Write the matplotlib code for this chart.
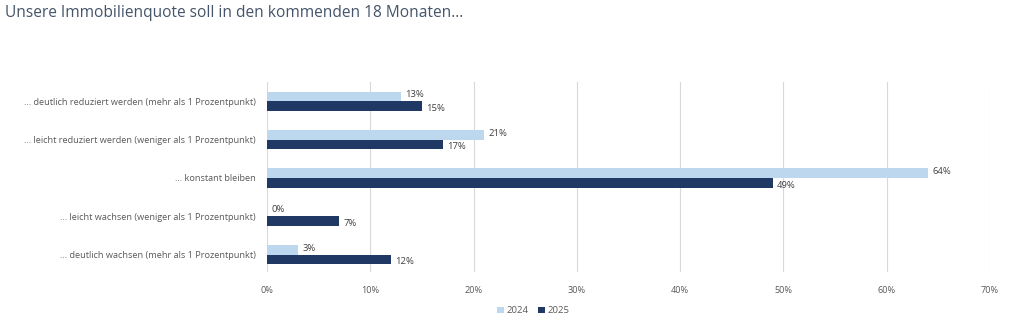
import numpy as np
import matplotlib.pyplot as plt
from matplotlib.ticker import FuncFormatter

# DATA

categories = [
    "... deutlich reduziert werden (mehr als 1 Prozentpunkt)",
    "... leicht reduziert werden (weniger als 1 Prozentpunkt)",
    "... konstant bleiben",
    "... leicht wachsen (weniger als 1 Prozentpunkt)",
    "... deutlich wachsen (mehr als 1 Prozentpunkt)",
]
values_2024 = [13, 21, 64, 0, 3]
values_2025 = [15, 17, 49, 7, 12]
years = ["2024", "2025"]

col_2024 = "#BDD7EE"
col_2025 = "#1F3864"
text_grey = "#595959"

plt.rcParams['font.family'] = ['Open Sans', 'DejaVu Sans']

# FIGURE

fig = plt.figure(figsize=(10.24, 3.29), dpi=100)
ax = fig.add_axes([0.2607, 0.1733, 0.7061, 0.5775])

y = np.arange(len(categories))
h = 0.25

b1 = ax.barh(y - h / 2, values_2024, height=h, color=col_2024, label=years[0], zorder=3)
b2 = ax.barh(y + h / 2, values_2025, height=h, color=col_2025, label=years[1], zorder=3)

# value labels
for bars, vals, dy in ((b1, values_2024, -0.04), (b2, values_2025, 0.06)):
    for bar, v in zip(bars, vals):
        ax.text(v + 0.4, bar.get_y() + bar.get_height() / 2 + dy, f"{v}%",
                va='center', ha='left', fontsize=6.8, color="#404040")

ax.set_xlim(0, 70)
ax.set_ylim(4.45, -0.5)
ax.set_xticks(np.arange(0, 71, 10))
ax.xaxis.set_major_formatter(FuncFormatter(lambda v, p: f"{v:.0f}%"))
ax.set_yticks(y)
ax.set_yticklabels(categories)

ax.tick_params(axis='both', length=0, labelsize=6.6, colors=text_grey)
ax.tick_params(axis='y', pad=8)
ax.tick_params(axis='x', pad=10)
ax.grid(axis='x', color="#D9D9D9", lw=0.8, zorder=0)
for s in ax.spines.values():
    s.set_visible(False)

fig.text(0.005, 0.962, "Unsere Immobilienquote soll in den kommenden 18 Monaten...",
         fontsize=11.2, color="#44546A", va='center', ha='left')

fig.legend(handles=[b1, b2], labels=years, loc='center', bbox_to_anchor=(0.521, 0.055),
           ncol=2, frameon=False, fontsize=6.8, handlelength=0.7, handleheight=0.7,
           handletextpad=0.3, columnspacing=1.0, labelcolor=text_grey)

fig.savefig("out.png", dpi=100)
